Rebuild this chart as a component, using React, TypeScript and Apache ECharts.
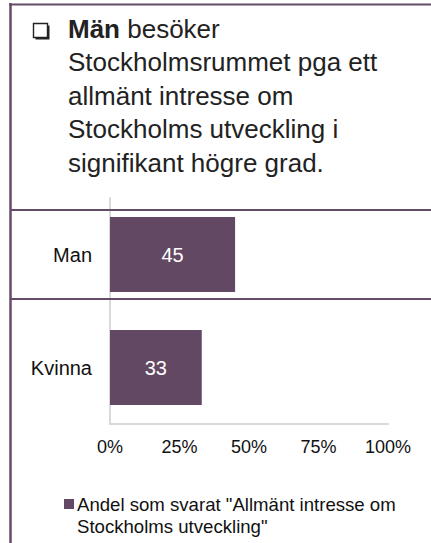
import React, { useEffect, useRef } from "react";
import * as echarts from "echarts";

const categories = ["Man", "Kvinna"];
const values = [45, 33];
const seriesName = 'Andel som svarat "Allmänt intresse om Stockholms utveckling"';
const xTicks = [0, 25, 50, 75, 100];
const titleLines = [
  "Stockholmsrummet pga ett",
  "allmänt intresse om",
  "Stockholms utveckling i",
  "signifikant högre grad.",
];

const FONT = "'Liberation Sans', Arial, sans-serif";
const PURPLE = "#634863";
const LINE = "#654b67";

export default function App() {
  const ref = useRef<HTMLDivElement>(null);
  useEffect(() => {
    if (!ref.current) return;
    const chart = echarts.init(ref.current, undefined, { renderer: "svg" });
    chart.setOption({
      animation: false,
      backgroundColor: "#fff",
      textStyle: { fontFamily: FONT },
      grid: { left: 110, right: 43, top: 198, bottom: 119, containLabel: false },
      xAxis: {
        type: "value",
        min: xTicks[0],
        max: xTicks[xTicks.length - 1],
        interval: 25,
        axisLine: { show: true, lineStyle: { color: "#d9d9d9", width: 2 } },
        axisTick: { show: false },
        splitLine: { show: false },
        axisLabel: {
          formatter: "{value}%",
          fontSize: 18,
          color: "#111",
          margin: 14,
          fontFamily: FONT,
        },
      },
      yAxis: {
        type: "category",
        inverse: true,
        data: categories,
        axisLine: { show: true, lineStyle: { color: "#d9d9d9", width: 2 } },
        axisTick: { show: false },
        axisLabel: { fontSize: 20, color: "#111", margin: 18, fontFamily: FONT },
      },
      legend: {
        left: 64,
        top: 493,
        padding: 0,
        itemWidth: 10,
        itemHeight: 33,
        itemGap: 0,
        icon: "path://M0,0L10,0L10,10L0,10Z M0,33L0.01,33L0.01,33.01Z",
        formatter: () => 'Andel som svarat "Allmänt intresse om\nStockholms utveckling"',
        textStyle: { fontSize: 18.6, lineHeight: 22.5, color: "#111", fontFamily: FONT, padding: [0, 0, 0, -2] },
        data: [seriesName],
      },
      series: [
        {
          name: seriesName,
          type: "bar",
          data: values,
          barWidth: 75,
          itemStyle: { color: PURPLE },
          label: {
            show: true,
            position: "inside",
            color: "#fff",
            fontSize: 20,
            fontFamily: FONT,
          },
        },
      ],
      graphic: [
        { type: "line", shape: { x1: 10.5, y1: 3, x2: 10.5, y2: 543 }, style: { stroke: LINE, lineWidth: 2.5 }, z: 10 },
        { type: "line", shape: { x1: 9, y1: 4.5, x2: 431, y2: 4.5 }, style: { stroke: LINE, lineWidth: 2 }, z: 10 },
        { type: "line", shape: { x1: 10, y1: 210, x2: 431, y2: 210 }, style: { stroke: LINE, lineWidth: 2 }, z: 10 },
        { type: "line", shape: { x1: 10, y1: 299, x2: 431, y2: 299 }, style: { stroke: LINE, lineWidth: 2 }, z: 10 },
        { type: "rect", shape: { x: 35.5, y: 25.5, width: 14, height: 14 }, style: { fill: "#222" }, z: 10 },
        { type: "rect", shape: { x: 33.5, y: 23.5, width: 14, height: 14 }, style: { fill: "#fff", stroke: "#222", lineWidth: 1.4 }, z: 11 },
        {
          type: "text",
          x: 68,
          y: 12,
          z: 10,
          style: {
            text: "{b|Män} besöker\n" + titleLines.join("\n"),
            fontSize: 26,
            lineHeight: 33.5,
            fill: "#222",
            fontFamily: FONT,
            verticalAlign: "top",
            rich: {
              b: { fontWeight: "bold", fontSize: 26, lineHeight: 33.5, fill: "#222", fontFamily: FONT },
            },
          },
        },
      ],
    });
    return () => chart.dispose();
  }, []);
  return (
    <div
      ref={ref}
      style={{ position: "fixed", left: 0, top: 0, width: 431, height: 543 }}
    />
  );
}
